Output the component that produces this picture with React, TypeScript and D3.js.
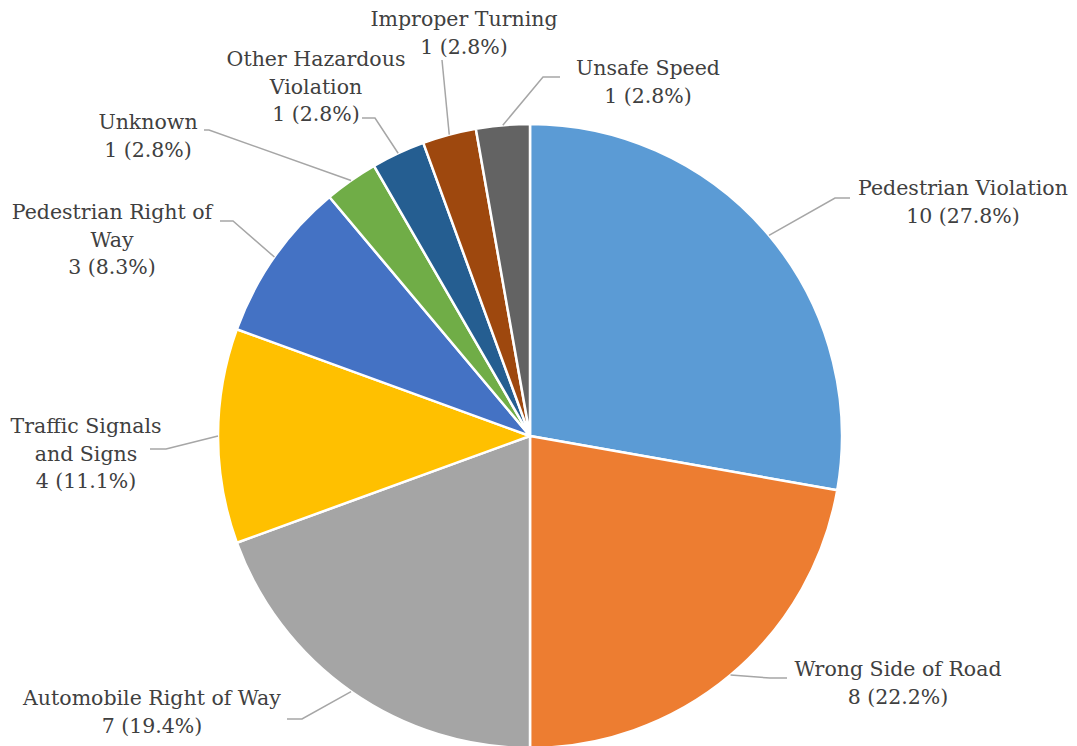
import React, { useEffect, useRef } from 'react';
import * as d3 from 'd3';

const categories = [
  'Pedestrian Violation',
  'Wrong Side of Road',
  'Automobile Right of Way',
  'Traffic Signals and Signs',
  'Pedestrian Right of Way',
  'Unknown',
  'Other Hazardous Violation',
  'Improper Turning',
  'Unsafe Speed',
];
const counts = [10, 8, 7, 4, 3, 1, 1, 1, 1];
const colors = ['#5B9BD5', '#ED7D31', '#A5A5A5', '#FFC000', '#4472C4', '#70AD47', '#255E91', '#9E480E', '#636363'];

// label text lines (Excel wraps some of the names)
const labelLines = [
  ['Pedestrian Violation'],
  ['Wrong Side of Road'],
  ['Automobile Right of Way'],
  ['Traffic Signals', 'and Signs'],
  ['Pedestrian Right of', 'Way'],
  ['Unknown'],
  ['Other Hazardous', 'Violation'],
  ['Improper Turning'],
  ['Unsafe Speed'],
];

// label placement: text centre x, first line centre y, leader elbow + end
const labelLayout = [
  { x: 963, y: 188, pts: [[835, 198], [850, 198]] },
  { x: 898, y: 669, pts: [[770, 678], [787, 678]] },
  { x: 152, y: 698, pts: [[302, 719], [287, 719]] },
  { x: 86, y: 426, pts: [[166, 449], [150, 449]] },
  { x: 112, y: 212, pts: [[233, 221], [220, 221]] },
  { x: 148, y: 122, pts: [[209, 130], [204, 130]] },
  { x: 316, y: 59, pts: [[375, 118], [362, 118]] },
  { x: 464, y: 19, pts: [[442, 60]] },
  { x: 648, y: 68, pts: [[543, 77], [560, 77]] },
];

const W = 1077;
const H = 746;

const App = () => {
  const svgRef = useRef<SVGSVGElement>(null);

  useEffect(() => {
    const svg = d3.select(svgRef.current);
    svg.selectAll('*').remove();

    const cx = 530;
    const cy = 436;
    const r = 312;
    const total = d3.sum(counts);

    const data = categories.map((c, i) => ({ name: c, value: counts[i], i }));
    const pie = d3.pie<any>().value(d => d.value).sort(null);
    const arcs = pie(data);
    const arc = d3.arc<any>().innerRadius(0).outerRadius(r);

    const g = svg.append('g').attr('transform', `translate(${cx},${cy})`);

    g.selectAll('path.slice')
      .data(arcs)
      .enter().append('path')
      .attr('class', 'slice')
      .attr('d', arc)
      .attr('fill', d => colors[d.data.i])
      .attr('stroke', '#fff')
      .attr('stroke-width', 2.5)
      .attr('stroke-linejoin', 'round');

    // leader lines
    arcs.forEach(a => {
      const mid = (a.startAngle + a.endAngle) / 2;
      const sx = cx + r * Math.sin(mid);
      const sy = cy - r * Math.cos(mid);
      const lay = labelLayout[a.data.i];
      const pts = [[sx, sy], ...lay.pts];
      svg.append('path')
        .attr('d', d3.line()(pts as [number, number][]))
        .attr('fill', 'none')
        .attr('stroke', '#A6A6A6')
        .attr('stroke-width', 1.5);
    });

    const fmt = d3.format('.1%');
    const lh = 27.5;
    arcs.forEach(a => {
      const i = a.data.i;
      const lay = labelLayout[i];
      const lines = [...labelLines[i], `${counts[i]} (${fmt(counts[i] / total)})`];
      const t = svg.append('text')
        .attr('text-anchor', 'middle')
        .attr('font-family', 'DejaVu Serif, serif')
        .attr('font-size', 20.5)
        .attr('fill', '#404040');
      lines.forEach((ln, k) => {
        t.append('tspan')
          .attr('x', lay.x)
          .attr('y', lay.y + k * lh)
          .attr('dy', '0.35em')
          .text(ln);
      });
    });
  }, []);

  return (
    <svg
      ref={svgRef}
      width={W}
      height={H}
      style={{ position: 'absolute', left: 0, top: 0, background: '#fff' }}
    />
  );
};

export default App;
